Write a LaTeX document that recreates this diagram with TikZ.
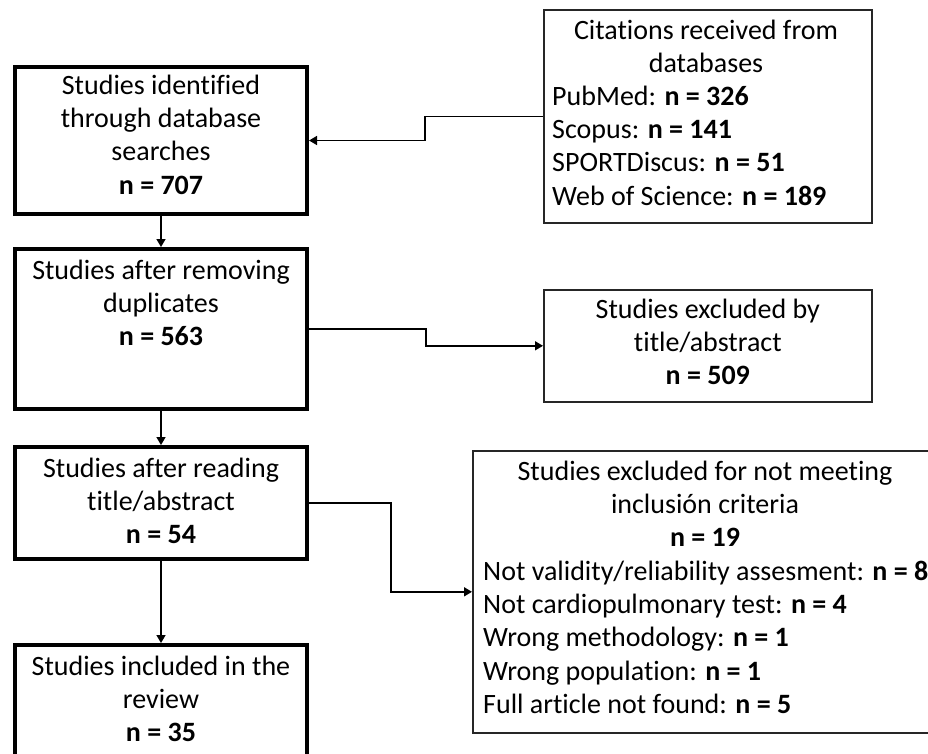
\documentclass[tikz,border=0pt]{standalone}
\usepackage{fontspec}
\setmainfont{Carlito}[Ligatures=NoCommon]
\usetikzlibrary{arrows.meta}
\begin{document}
\begin{tikzpicture}[x=1pt,y=-1pt,
  thickbox/.style={draw=black,line width=4pt,anchor=north west,inner sep=0pt,outer sep=2pt},
  thinbox/.style={draw=black!85,line width=1.6pt,anchor=north west,inner sep=0pt,outer sep=0.8pt},
  txt/.style={inner sep=0pt,anchor=north,align=center,font=\fontsize{28}{33.4}\selectfont},
  ltxt/.style={inner sep=0pt,anchor=north west,align=left,font=\fontsize{28}{33.4}\selectfont},
  conn/.style={draw=black,line width=1.6pt,-{Triangle[length=8pt,width=9pt]}}]
\useasboundingbox (0,0) rectangle (928,753);
% boxes
\node[thickbox,minimum width=292pt,minimum height=147pt] (b1) at (13,65) {};
\node[thickbox,minimum width=292pt,minimum height=160pt] (b2) at (13,247) {};
\node[thickbox,minimum width=292pt,minimum height=112pt] (b3) at (13,445) {};
\node[thickbox,minimum width=292pt,minimum height=120pt] (b4) at (13,643) {};
\node[thinbox,minimum width=328pt,minimum height=213pt] (cit) at (543,9) {};
\node[thinbox,minimum width=328pt,minimum height=112pt] (exc) at (543,289) {};
\node[thinbox,minimum width=468pt,minimum height=282pt] (crit) at (472,450) {};
% texts
\node[txt] (t1) at ([yshift=-5.6pt]b1.north) {\strut Studies identified\\through database\\searches\\\textbf{n = 707}};
\node[txt] (t2) at ([yshift=-8.6pt]b2.north) {\strut Studies after removing\\duplicates\\\textbf{n = 563}};
\node[txt] (t3) at ([yshift=-8.6pt]b3.north) {\strut Studies after reading\\title/abstract\\\textbf{n = 54}};
\node[txt] (t4) at ([yshift=-8.6pt]b4.north) {\strut Studies included in the\\review\\\textbf{n = 35}};
\node[txt] (citT) at (706,15.6) {\strut Citations received from\\databases};
\node[ltxt] (citL) at (552,81.6) {\strut PubMed: \textbf{n = 326}\\Scopus: \textbf{n = 141}\\SPORTDiscus: \textbf{n = 51}\\Web of Science: \textbf{n = 189}};
\node[txt] (excT) at ([yshift=-5.6pt]exc.north) {\strut Studies excluded by\\title/abstract\\\textbf{n = 509}};
\node[txt] (critT) at (705,456.6) {\strut Studies excluded for not meeting\\inclusión criteria\\\textbf{n = 19}};
\node[ltxt] (critL) at (483,556.6) {\strut Not validity/reliability assesment: \textbf{n = 8}\\Not cardiopulmonary test: \textbf{n = 4}\\Wrong methodology: \textbf{n = 1}\\Wrong population: \textbf{n = 1}\\Full article not found: \textbf{n = 5}};
% connectors
\draw[conn] (cit.west) -- ++(-118,0) |- (b1.east);
\draw[conn] (b2.east) -- ++(117,0) |- (exc.west);
\draw[conn] (b3.east) -- ++(82,0) |- (crit.west);
\draw[conn] (b1.south) -- (b2.north);
\draw[conn] (b2.south) -- (b3.north);
\draw[conn] (b3.south) -- (b4.north);
\end{tikzpicture}
\end{document}
